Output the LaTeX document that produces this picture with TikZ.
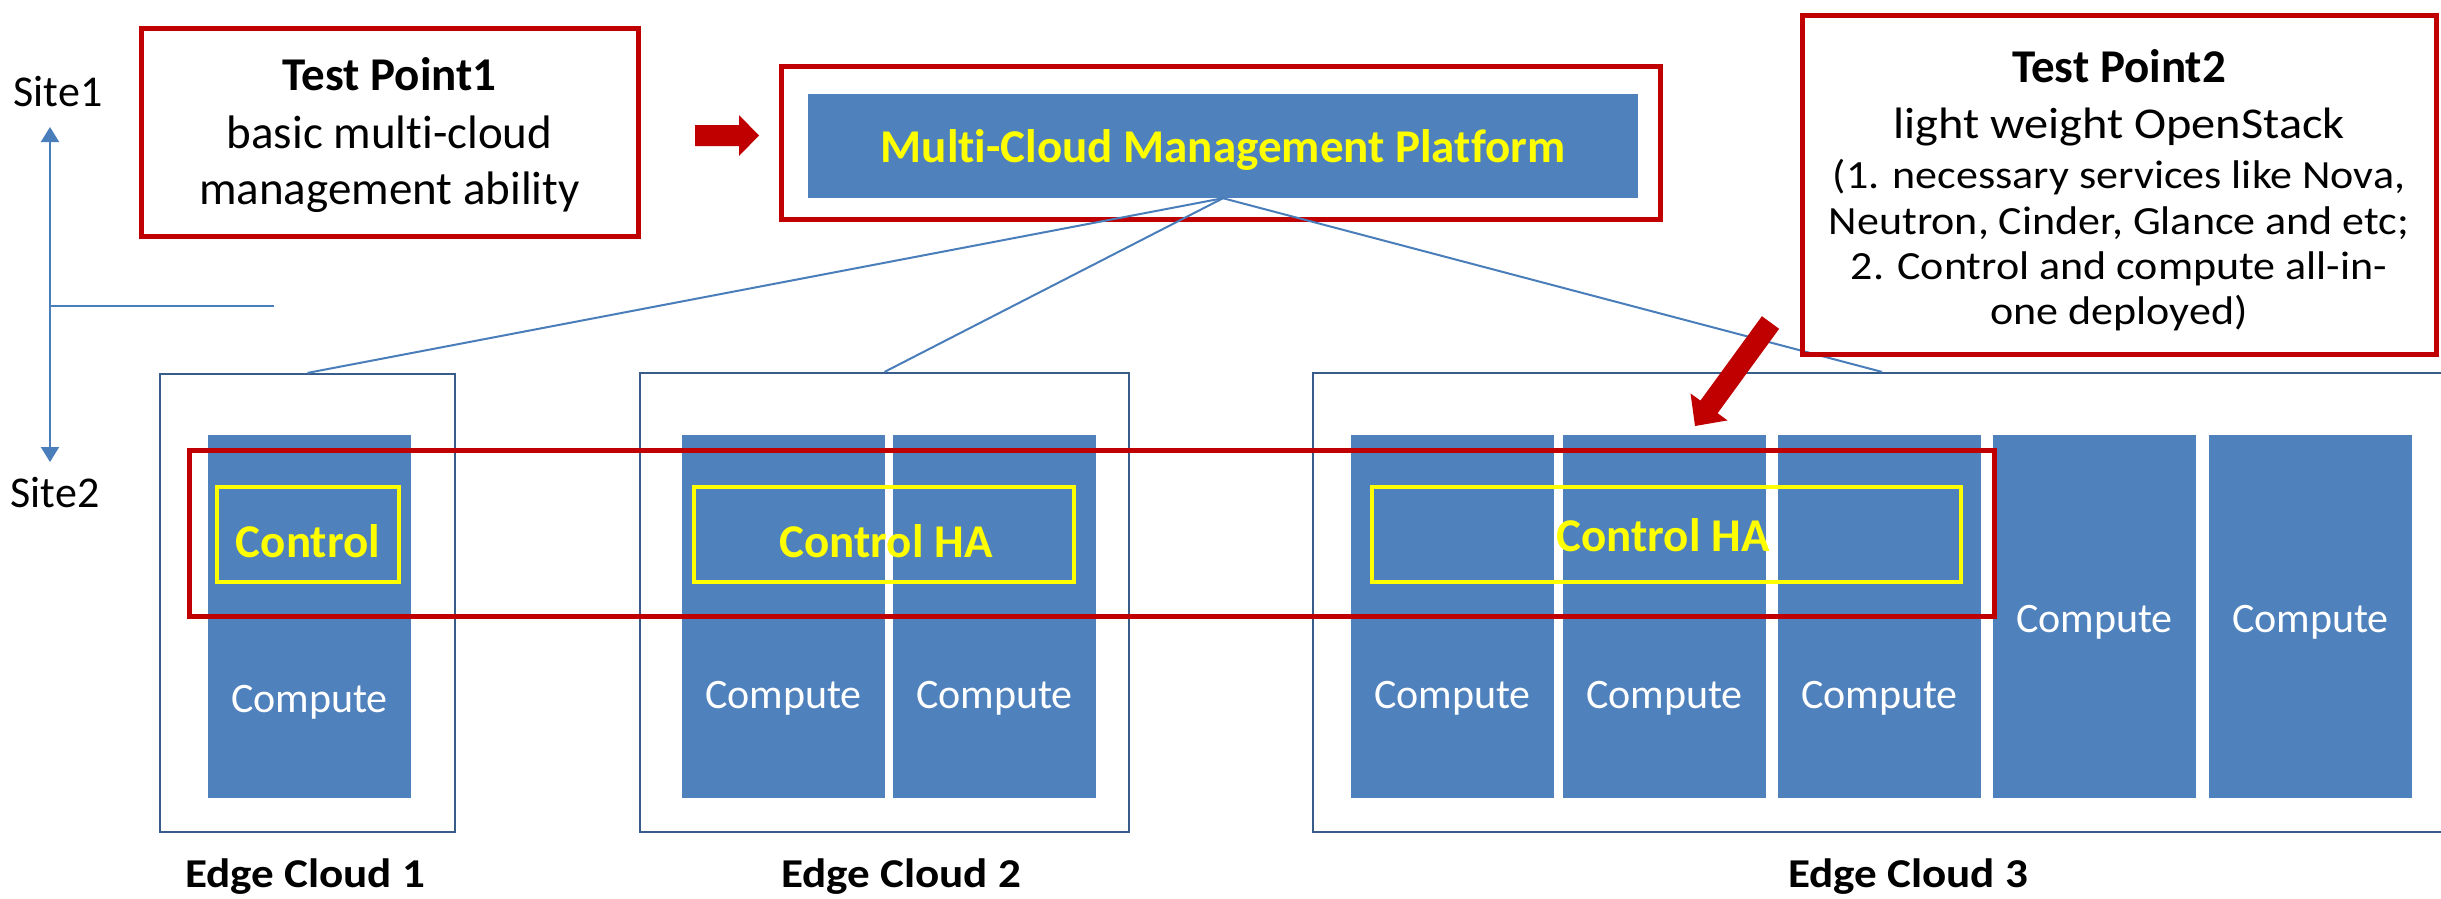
\documentclass[tikz,border=0pt]{standalone}
\usepackage{fontspec}
\setmainfont{Carlito}[Ligatures=NoCommon]
\newfontfamily\widefont[FakeStretch=1.1,Ligatures=NoCommon]{Carlito}
\usetikzlibrary{arrows.meta}
\definecolor{blk}{HTML}{4F81BD}
\definecolor{redc}{HTML}{C00000}
\definecolor{ylw}{HTML}{FFFF00}
\definecolor{edgec}{HTML}{385D8A}
\definecolor{lnk}{HTML}{4A7EBB}
\newcommand{\fsz}[2]{\fontsize{#1}{#2}\selectfont}
\begin{document}
\begin{tikzpicture}[x=1pt,y=-1pt,
  redbox/.style={draw=redc, line width=5pt, inner sep=0},
  cloudbox/.style={draw=edgec, line width=2.2pt, inner sep=0},
  block/.style={fill=blk, inner sep=0, minimum width=203pt, minimum height=363pt},
  ybox/.style={draw=ylw, line width=4pt, inner sep=0, minimum height=95pt},
  ctext/.style={text=white, font=\fsz{42}{50}, inner sep=0, anchor=base},
  ytext/.style={text=ylw, font=\fsz{47}{56}\bfseries, inner sep=0, anchor=base},
  eclabel/.style={font=\widefont\fsz{41}{50}\bfseries, inner sep=0, anchor=base},
  sitelabel/.style={font=\fsz{44}{52}, inner sep=0, anchor=base},
  tpline/.style={font=\fsz{47}{56}, inner sep=0, anchor=base},
  tpsmall/.style={font=\widefont\fsz{40}{48}, inner sep=0, anchor=base},
  link/.style={draw=lnk, line width=2pt},
  redarrow/.style={fill=redc}
]
\useasboundingbox (0,0) rectangle (2441,898);

% edge cloud boxes
\node[cloudbox, minimum width=295pt, minimum height=458pt] (ec1) at (307.5,603) {};
\node[cloudbox, minimum width=489pt, minimum height=459pt] (ec2) at (884.5,602.5) {};
\node[cloudbox, minimum width=1138pt, minimum height=459pt] (ec3) at (1882,602.5) {};

% platform
\node[redbox, minimum width=879pt, minimum height=153pt] (mcmpbox) at (1220.5,142.5) {};
\node[fill=blk, inner sep=0, minimum width=830pt, minimum height=104pt] (plat) at (1223,146) {};
\node[ytext] (plattext) at (1223,162) {Multi-Cloud Management Platform};

% connectors
\draw[link] (plat.south) -- (ec1.north);
\draw[link] (plat.south) -- (ec2.north);
\draw[link] (plat.south) -- (ec3.north);

% blocks
\node[block] (b11) at (309.5,616.5) {};
\node[block] (b21) at (783.5,616.5) {};
\node[block] (b22) at (994.5,616.5) {};
\node[block] (b31) at (1452.5,616.5) {};
\node[block] (b32) at (1664.5,616.5) {};
\node[block] (b33) at (1879.5,616.5) {};
\node[block] (b34) at (2094.5,616.5) {};
\node[block] (b35) at (2310.5,616.5) {};

\node[ctext] (c11) at (309.5,712) {Compute};
\node[ctext] (c21) at (783.5,708) {Compute};
\node[ctext] (c22) at (994.5,708) {Compute};
\node[ctext] (c31) at (1452.5,708) {Compute};
\node[ctext] (c32) at (1664.5,708) {Compute};
\node[ctext] (c33) at (1879.5,708) {Compute};
\node[ctext] (c34) at (2094.5,632) {Compute};
\node[ctext] (c35) at (2310.5,632) {Compute};

% control boxes
\node[ybox, minimum width=182pt] (y1) at (308,534.5) {};
\node[ybox, minimum width=380pt] (y2) at (884,534.5) {};
\node[ybox, minimum width=589pt] (y3) at (1666.5,534.5) {};
\node[ytext] (ct1) at (308,557) {Control};
\node[ytext] (ct2) at (886,557) {Control HA};
\node[ytext] (ct3) at (1663,551) {Control HA};

% wide red box
\node[redbox, minimum width=1805pt, minimum height=166pt] (wide) at (1091.5,533) {};

% test point 1
\node[redbox, minimum width=497pt, minimum height=208pt] (tp1) at (389.5,132) {};
\node[tpline, font=\fsz{47}{56}\bfseries] (tp1a) at (389.5,90) {Test Point1};
\node[tpline] (tp1b) at (389.5,148) {basic multi-cloud};
\node[tpline] (tp1c) at (389.5,204) {management ability};

% test point 2
\node[redbox, minimum width=634pt, minimum height=339pt] (tp2) at (2119,184.5) {};
\node[tpline, font=\fsz{47}{56}\bfseries] (tp2a) at (2119,82) {Test Point2};
\node[tpline, font=\widefont\fsz{44}{52}] (tp2b) at (2119,138) {light weight OpenStack};
\node[tpsmall] (tp2c) at (2119,188) {(1. necessary services like Nova,};
\node[tpsmall] (tp2d) at (2119,234) {Neutron, Cinder, Glance and etc;};
\node[tpsmall] (tp2e) at (2119,279) {2. Control and compute all-in-};
\node[tpsmall] (tp2f) at (2119,324) {one deployed)};

% red arrows
\fill[redarrow] (695,125) -- (739,125) -- (739,115) -- (759,135.5) -- (739,156) -- (739,146) -- (695,146) -- cycle;
\fill[redarrow] (1761.9,316.2) -- (1779.1,328.8) -- (1717.6,413.2) -- (1727.5,420.4) -- (1695,426) -- (1690.5,393.4) -- (1700.4,400.6) -- cycle;

% site axis
\coordinate (s1a) at (50,127);
\coordinate (s2a) at (50,462);
\coordinate (tickl) at (50,306);
\coordinate (tickr) at (274,306);
\draw[link, {Triangle[width=18pt,length=15pt]}-{Triangle[width=18pt,length=15pt]}] (s1a) -- (s2a);
\draw[link] (tickl) -- (tickr);
\node[sitelabel] (site1) at (58,106) {Site1};
\node[sitelabel] (site2) at (55,507) {Site2};

% edge cloud labels
\node[eclabel] (l1) at (305,887) {Edge Cloud 1};
\node[eclabel] (l2) at (901,887) {Edge Cloud 2};
\node[eclabel] (l3) at (1908,887) {Edge Cloud 3};
\end{tikzpicture}
\end{document}
